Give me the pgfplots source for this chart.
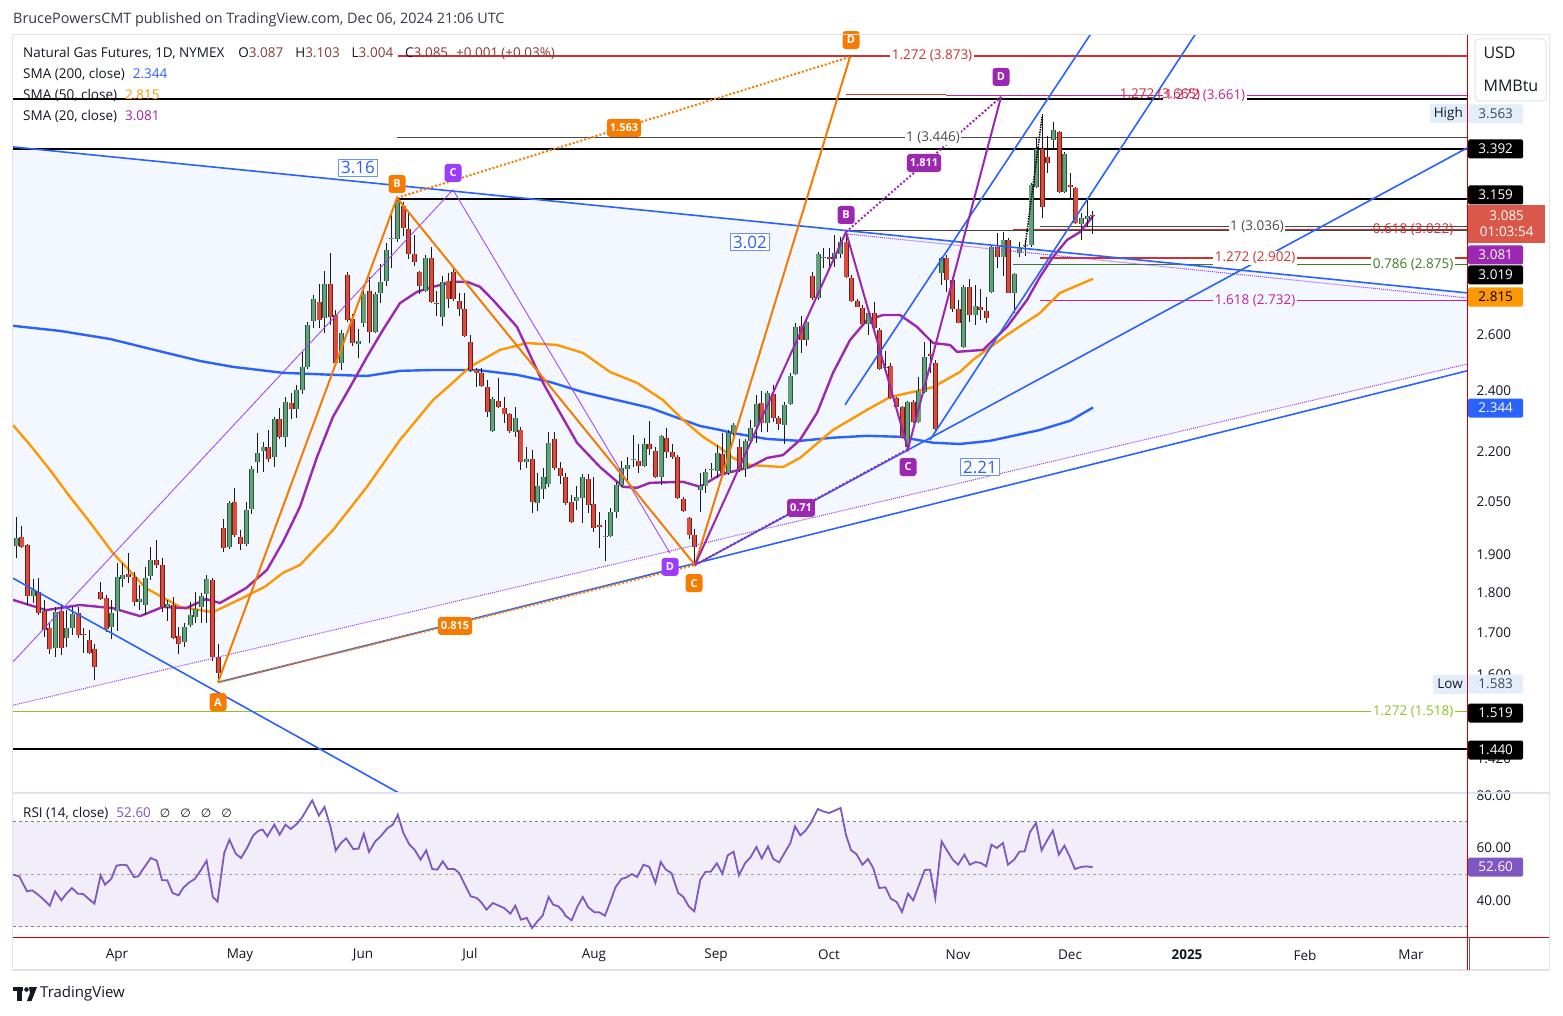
\documentclass[border=0pt]{standalone}
\usepackage{pgfplots}
\pgfplotsset{compat=1.18}
\usepackage{fontspec}
\setmainfont{Open Sans}
\newfontfamily\dvs{DejaVu Sans}

\definecolor{upfill}{HTML}{63A07B}
\definecolor{upbord}{HTML}{24563A}
\definecolor{dnfill}{HTML}{DB4C3C}
\definecolor{dnbord}{HTML}{6E1E16}
\definecolor{wickc}{HTML}{1A1A1A}
\definecolor{tvblue}{HTML}{2962FF}
\definecolor{tvorange}{HTML}{FF9800}
\definecolor{orpat}{HTML}{F57C00}
\definecolor{sma20}{HTML}{9C27B0}
\definecolor{vio}{HTML}{9D3CFF}
\definecolor{shade}{HTML}{F3F7FF}
\definecolor{fibred}{HTML}{D32F2F}
\definecolor{fibmag}{HTML}{C5229B}
\definecolor{fibgreen}{HTML}{3A7D22}
\definecolor{fiblime}{HTML}{8FC31F}
\definecolor{fibgray}{HTML}{4A4A4A}
\definecolor{rsic}{HTML}{7E57C2}
\definecolor{rsiband}{HTML}{F2EEF9}
\definecolor{frame}{HTML}{E0E3EB}
\definecolor{txt}{HTML}{131722}
\definecolor{ohlc}{HTML}{8B3A34}
\definecolor{hilo}{HTML}{E3EEFC}
\definecolor{lastred}{HTML}{D9584A}
\definecolor{crossred}{HTML}{CC0000}

\newcommand{\tvf}{\fontsize{13.5}{16}\selectfont}
\newcommand{\hdf}{\fontsize{14.4}{17}\selectfont}

\pgfplotsset{
  wick/.style={draw=wickc, line width=1pt},
  upc/.style={draw=upbord, line width=5pt, line cap=butt, postaction={draw=upfill, line width=3.2pt}},
  dnc/.style={draw=dnbord, line width=5pt, line cap=butt, postaction={draw=dnfill, line width=3.2pt}},
  hl/.style={line width=1.4pt},
}
\tikzset{
  olab/.style={fill=orpat, text=white, rounded corners=3pt, font=\bfseries\fontsize{11}{13}\selectfont, inner xsep=3pt, inner ysep=2pt, minimum height=18pt, minimum width=17pt},
  plab/.style={olab, fill=sma20},
  vlab/.style={olab, fill=vio},
  bbox/.style={draw=tvblue!70, fill=white, text=tvblue, font=\fontsize{17}{20}\selectfont, inner sep=2.5pt, line width=0.8pt},
  fl/.style={font=\tvf, inner sep=1.5pt},
}

% one candle: x, open, high, low, close
\newcommand{\cndl}[5]{%
  \addplot[wick] coordinates {(#1,#4) (#1,#3)};
  \ifdim #5pt<#2pt
    \addplot[dnc] coordinates {(#1,#2) (#1,#5)};
  \else
    \addplot[upc] coordinates {(#1,#2) (#1,#5)};
  \fi}

\newcommand{\plabel}[4]{\node[fill=#2, text=#3, font=\tvf, minimum width=55pt, minimum height=19pt, inner sep=0pt, anchor=west, rounded corners=1.5pt] at (1468,-#1) {#4};}

\begin{document}
\begin{tikzpicture}[x=1pt,y=1pt]
\useasboundingbox (0,0) rectangle (1563,-1016);
\fill[white] (0,0) rectangle (1563,-1016);

%% ---------------- price pane ----------------
\begin{axis}[
  at={(13pt,-35pt)}, anchor=north west, scale only axis,
  width=1454pt, height=758pt,
  xmin=13, xmax=1467, ymode=log, ymin=1.3515, ymax=3.991,
  axis line style={draw=none}, xtick=\empty,
  ytick={1.42,1.6,1.7,1.8,1.9,2.05,2.2,2.4,2.6},
  yticklabels={1.420,1.600,1.700,1.800,1.900,2.050,2.200,2.400,2.600},
  ytick pos=right, yticklabel pos=right, major tick length=0pt,
  yticklabel style={font=\tvf, text=txt, anchor=west, xshift=6pt},
  clip mode=individual,
]
% triangle shading
\addplot[fill=shade, draw=none] coordinates {(13,3.401) (1467,2.761) (1467,2.494) (13,1.532)} -- cycle;

% horizontal levels
\addplot[hl, fibred] coordinates {(398,3.873) (1467,3.873)};
\addplot[hl, fibred] coordinates {(846,3.665) (946,3.665)};
\addplot[hl, fibmag] coordinates {(946,3.661) (1467,3.661)};
\addplot[line width=2pt, black] coordinates {(13,3.642) (1467,3.642)};
\addplot[hl, fibgray] coordinates {(397,3.446) (1467,3.446)};
\addplot[line width=2pt, black] coordinates {(13,3.392) (1467,3.392)};
\addplot[line width=2pt, black] coordinates {(397,3.159) (1467,3.159)};
\addplot[hl, fibgray] coordinates {(1040,3.036) (1467,3.036)};
\addplot[hl, black!75] coordinates {(846,3.019) (1467,3.019)};
\addplot[hl, fibred] coordinates {(1013,3.024) (1467,3.024)};
\addplot[hl, fibred] coordinates {(1040,2.902) (1467,2.902)};
\addplot[hl, fibgreen] coordinates {(1013,2.875) (1467,2.875)};
\addplot[hl, fibmag] coordinates {(1040,2.732) (1467,2.732)};
\addplot[hl, fiblime] coordinates {(13,1.518) (1467,1.518)};
\addplot[line width=2pt, black] coordinates {(13,1.440) (1467,1.440)};

% moving averages
\addplot[tvblue, line width=2.4pt] coordinates {(13,2.634)(60,2.615)(110,2.585)(160,2.540)(200,2.505)(233,2.484)(283,2.463)(333,2.456)(367,2.452)(400,2.470)(433,2.473)(477,2.473)(517,2.456)(550,2.431)(583,2.396)(617,2.369)(650,2.343)(683,2.303)(700,2.283)(720,2.270)(733,2.260)(767,2.241)(800,2.235)(833,2.245)(867,2.251)(900,2.248)(933,2.229)(960,2.225)(990,2.235)(1040,2.270)(1070,2.300)(1093,2.344)};
\addplot[tvorange, line width=2.4pt] coordinates {(13,2.286)(30,2.222)(50,2.144)(70,2.063)(90,1.990)(113,1.904)(146,1.811)(180,1.763)(213,1.750)(246,1.790)(265,1.815)(283,1.851)(300,1.872)(333,1.968)(367,2.093)(400,2.238)(433,2.369)(450,2.420)(470,2.484)(500,2.545)(527,2.570)(557,2.563)(583,2.534)(610,2.466)(637,2.428)(663,2.369)(683,2.303)(703,2.248)(720,2.213)(733,2.181)(750,2.159)(783,2.153)(800,2.181)(833,2.270)(867,2.336)(890,2.379)(917,2.400)(933,2.413)(960,2.466)(973,2.509)(1007,2.600)(1040,2.683)(1060,2.761)(1093,2.817)};
\addplot[sma20, line width=2.4pt] coordinates {(13,1.781)(46,1.755)(80,1.768)(113,1.760)(140,1.740)(163,1.763)(186,1.760)(206,1.783)(220,1.773)(246,1.811)(267,1.859)(283,1.935)(300,2.034)(317,2.184)(333,2.313)(350,2.413)(367,2.520)(383,2.619)(400,2.721)(417,2.765)(433,2.785)(453,2.805)(467,2.805)(480,2.785)(493,2.733)(517,2.630)(543,2.428)(577,2.229)(600,2.153)(623,2.093)(637,2.090)(650,2.105)(683,2.108)(700,2.093)(720,2.129)(750,2.153)(767,2.181)(783,2.190)(800,2.238)(817,2.326)(833,2.463)(850,2.581)(867,2.656)(883,2.675)(900,2.675)(917,2.630)(933,2.570)(950,2.563)(957,2.538)(983,2.545)(1007,2.630)(1027,2.733)(1040,2.825)(1053,2.906)(1067,2.978)(1080,3.012)(1093,3.081)};

% candles
\cndl{16.3}{1.923}{2.005}{1.890}{1.946}
\cndl{21.9}{1.948}{1.979}{1.918}{1.920}
\cndl{27.5}{1.926}{1.930}{1.768}{1.791}
\cndl{33.1}{1.791}{1.835}{1.773}{1.806}
\cndl{38.7}{1.801}{1.837}{1.743}{1.748}
\cndl{44.3}{1.753}{1.781}{1.689}{1.706}
\cndl{49.9}{1.711}{1.723}{1.648}{1.660}
\cndl{55.5}{1.663}{1.763}{1.641}{1.750}
\cndl{61.1}{1.753}{1.771}{1.646}{1.663}
\cndl{66.8}{1.687}{1.755}{1.665}{1.711}
\cndl{72.4}{1.711}{1.763}{1.694}{1.745}
\cndl{78.0}{1.748}{1.763}{1.687}{1.694}
\cndl{83.6}{1.696}{1.711}{1.651}{1.694}
\cndl{89.2}{1.682}{1.706}{1.648}{1.651}
\cndl{94.8}{1.660}{1.672}{1.588}{1.618}
\cndl{100.4}{1.801}{1.827}{1.781}{1.783}
\cndl{106.0}{1.786}{1.794}{1.701}{1.708}
\cndl{111.6}{1.713}{1.781}{1.684}{1.748}
\cndl{117.2}{1.753}{1.877}{1.704}{1.840}
\cndl{122.8}{1.835}{1.877}{1.814}{1.845}
\cndl{128.4}{1.848}{1.904}{1.824}{1.840}
\cndl{134.0}{1.840}{1.853}{1.766}{1.776}
\cndl{139.6}{1.776}{1.819}{1.755}{1.783}
\cndl{145.2}{1.768}{1.867}{1.743}{1.837}
\cndl{150.8}{1.843}{1.920}{1.832}{1.885}
\cndl{156.5}{1.885}{1.940}{1.864}{1.872}
\cndl{162.1}{1.872}{1.890}{1.750}{1.763}
\cndl{167.7}{1.763}{1.781}{1.728}{1.771}
\cndl{173.3}{1.768}{1.788}{1.684}{1.687}
\cndl{178.9}{1.692}{1.713}{1.648}{1.672}
\cndl{184.5}{1.677}{1.723}{1.665}{1.713}
\cndl{190.1}{1.718}{1.776}{1.713}{1.743}
\cndl{195.7}{1.738}{1.801}{1.723}{1.758}
\cndl{201.3}{1.763}{1.799}{1.723}{1.791}
\cndl{206.9}{1.796}{1.845}{1.723}{1.835}
\cndl{212.5}{1.832}{1.837}{1.632}{1.641}
\cndl{218.1}{1.641}{1.672}{1.583}{1.604}
\cndl{223.7}{1.974}{1.999}{1.907}{1.918}
\cndl{229.3}{1.920}{2.051}{1.915}{2.045}
\cndl{234.9}{2.048}{2.090}{1.948}{1.954}
\cndl{240.5}{1.948}{1.968}{1.912}{1.929}
\cndl{246.2}{1.929}{2.048}{1.923}{2.025}
\cndl{251.8}{2.028}{2.156}{2.013}{2.147}
\cndl{257.4}{2.169}{2.260}{2.135}{2.197}
\cndl{263.0}{2.203}{2.232}{2.138}{2.216}
\cndl{268.6}{2.216}{2.270}{2.169}{2.178}
\cndl{274.2}{2.184}{2.313}{2.153}{2.306}
\cndl{279.8}{2.306}{2.343}{2.241}{2.248}
\cndl{285.4}{2.248}{2.379}{2.216}{2.362}
\cndl{291.0}{2.359}{2.393}{2.306}{2.339}
\cndl{296.6}{2.339}{2.421}{2.310}{2.403}
\cndl{302.2}{2.403}{2.538}{2.390}{2.484}
\cndl{307.8}{2.484}{2.649}{2.477}{2.637}
\cndl{313.4}{2.652}{2.753}{2.626}{2.737}
\cndl{319.0}{2.725}{2.797}{2.626}{2.656}
\cndl{324.6}{2.664}{2.849}{2.608}{2.797}
\cndl{330.2}{2.797}{2.923}{2.637}{2.667}
\cndl{335.9}{2.675}{2.695}{2.491}{2.498}
\cndl{341.5}{2.498}{2.619}{2.473}{2.608}
\cndl{347.1}{2.833}{2.845}{2.649}{2.656}
\cndl{352.7}{2.660}{2.679}{2.559}{2.570}
\cndl{358.3}{2.566}{2.623}{2.516}{2.577}
\cndl{363.9}{2.645}{2.793}{2.630}{2.757}
\cndl{369.5}{2.769}{2.825}{2.570}{2.612}
\cndl{375.1}{2.612}{2.765}{2.608}{2.757}
\cndl{380.7}{2.761}{2.878}{2.721}{2.805}
\cndl{386.3}{2.809}{2.965}{2.789}{2.936}
\cndl{391.9}{2.982}{3.095}{2.861}{2.986}
\cndl{397.5}{2.982}{3.162}{2.969}{3.149}
\cndl{403.1}{3.126}{3.144}{2.995}{3.029}
\cndl{408.7}{3.025}{3.095}{2.898}{2.919}
\cndl{414.3}{2.919}{2.999}{2.869}{2.886}
\cndl{419.9}{2.845}{2.850}{2.757}{2.789}
\cndl{425.6}{2.769}{2.915}{2.765}{2.902}
\cndl{431.2}{2.902}{2.948}{2.721}{2.725}
\cndl{436.8}{2.721}{2.769}{2.671}{2.718}
\cndl{442.4}{2.667}{2.829}{2.634}{2.805}
\cndl{448.0}{2.809}{2.841}{2.702}{2.737}
\cndl{453.6}{2.845}{2.861}{2.729}{2.737}
\cndl{459.2}{2.729}{2.761}{2.671}{2.698}
\cndl{464.8}{2.698}{2.761}{2.592}{2.596}
\cndl{470.4}{2.574}{2.600}{2.466}{2.473}
\cndl{476.0}{2.473}{2.480}{2.413}{2.463}
\cndl{481.6}{2.463}{2.480}{2.413}{2.417}
\cndl{487.2}{2.413}{2.438}{2.313}{2.329}
\cndl{492.8}{2.267}{2.379}{2.264}{2.372}
\cndl{498.4}{2.366}{2.445}{2.344}{2.346}
\cndl{504.0}{2.343}{2.379}{2.293}{2.323}
\cndl{509.6}{2.323}{2.326}{2.260}{2.267}
\cndl{515.3}{2.264}{2.346}{2.248}{2.310}
\cndl{520.9}{2.270}{2.280}{2.144}{2.169}
\cndl{526.5}{2.169}{2.216}{2.150}{2.178}
\cndl{532.1}{2.178}{2.206}{2.016}{2.048}
\cndl{537.7}{2.045}{2.135}{2.022}{2.096}
\cndl{543.3}{2.087}{2.150}{2.057}{2.123}
\cndl{548.9}{2.102}{2.264}{2.093}{2.229}
\cndl{554.5}{2.241}{2.264}{2.144}{2.150}
\cndl{560.1}{2.150}{2.169}{2.102}{2.126}
\cndl{565.7}{2.123}{2.135}{2.039}{2.045}
\cndl{571.3}{2.048}{2.069}{1.987}{1.990}
\cndl{576.9}{2.051}{2.096}{2.025}{2.063}
\cndl{582.5}{2.060}{2.132}{1.987}{2.123}
\cndl{588.1}{2.117}{2.132}{2.016}{2.039}
\cndl{593.7}{2.042}{2.123}{1.962}{1.974}
\cndl{599.3}{1.982}{2.019}{1.918}{1.976}
\cndl{605.0}{1.950}{1.996}{1.882}{1.952}
\cndl{610.6}{1.951}{2.031}{1.948}{2.019}
\cndl{616.2}{2.019}{2.108}{2.002}{2.099}
\cndl{621.8}{2.099}{2.172}{2.093}{2.150}
\cndl{627.4}{2.147}{2.184}{2.108}{2.159}
\cndl{633.0}{2.175}{2.254}{2.153}{2.177}
\cndl{638.6}{2.172}{2.225}{2.135}{2.156}
\cndl{644.2}{2.156}{2.245}{2.153}{2.225}
\cndl{649.8}{2.225}{2.300}{2.190}{2.210}
\cndl{655.4}{2.203}{2.216}{2.120}{2.123}
\cndl{661.0}{2.123}{2.255}{2.099}{2.251}
\cndl{666.6}{2.245}{2.277}{2.181}{2.200}
\cndl{672.2}{2.200}{2.225}{2.178}{2.184}
\cndl{677.8}{2.184}{2.190}{2.057}{2.060}
\cndl{683.4}{2.057}{2.063}{2.020}{2.022}
\cndl{689.0}{2.002}{2.005}{1.943}{1.954}
\cndl{694.7}{1.954}{1.971}{1.872}{1.920}
\cndl{700.3}{2.084}{2.135}{2.019}{2.096}
\cndl{705.9}{2.096}{2.147}{2.075}{2.138}
\cndl{711.5}{2.144}{2.166}{2.120}{2.146}
\cndl{717.1}{2.141}{2.222}{2.120}{2.197}
\cndl{722.7}{2.194}{2.260}{2.129}{2.135}
\cndl{728.3}{2.135}{2.270}{2.129}{2.260}
\cndl{733.9}{2.260}{2.293}{2.238}{2.287}
\cndl{739.5}{2.216}{2.241}{2.138}{2.144}
\cndl{745.1}{2.147}{2.241}{2.123}{2.235}
\cndl{750.7}{2.235}{2.303}{2.229}{2.277}
\cndl{756.3}{2.280}{2.386}{2.229}{2.356}
\cndl{761.9}{2.359}{2.400}{2.264}{2.293}
\cndl{767.5}{2.293}{2.400}{2.264}{2.393}
\cndl{773.1}{2.390}{2.421}{2.297}{2.310}
\cndl{778.7}{2.310}{2.316}{2.270}{2.290}
\cndl{784.4}{2.287}{2.362}{2.225}{2.352}
\cndl{790.0}{2.356}{2.463}{2.352}{2.452}
\cndl{795.6}{2.459}{2.645}{2.456}{2.630}
\cndl{801.2}{2.634}{2.671}{2.534}{2.581}
\cndl{806.8}{2.581}{2.656}{2.559}{2.649}
\cndl{812.4}{2.829}{2.845}{2.733}{2.741}
\cndl{818.0}{2.741}{2.927}{2.733}{2.919}
\cndl{823.6}{2.906}{2.944}{2.861}{2.908}
\cndl{829.2}{2.906}{2.944}{2.865}{2.898}
\cndl{834.8}{2.898}{2.999}{2.865}{2.923}
\cndl{840.4}{2.919}{2.991}{2.902}{2.969}
\cndl{846.0}{2.969}{3.012}{2.822}{2.825}
\cndl{851.6}{2.821}{2.833}{2.725}{2.729}
\cndl{857.2}{2.729}{2.737}{2.704}{2.706}
\cndl{862.8}{2.702}{2.714}{2.637}{2.641}
\cndl{868.4}{2.641}{2.695}{2.600}{2.683}
\cndl{874.1}{2.683}{2.725}{2.615}{2.626}
\cndl{879.7}{2.619}{2.626}{2.473}{2.477}
\cndl{885.3}{2.480}{2.541}{2.473}{2.482}
\cndl{890.9}{2.487}{2.498}{2.372}{2.376}
\cndl{896.5}{2.376}{2.379}{2.343}{2.346}
\cndl{902.1}{2.346}{2.349}{2.245}{2.248}
\cndl{907.7}{2.216}{2.366}{2.203}{2.362}
\cndl{913.3}{2.362}{2.369}{2.293}{2.297}
\cndl{918.9}{2.297}{2.449}{2.293}{2.400}
\cndl{924.5}{2.396}{2.574}{2.393}{2.520}
\cndl{930.1}{2.531}{2.581}{2.463}{2.524}
\cndl{935.7}{2.498}{2.509}{2.264}{2.274}
\cndl{941.3}{2.841}{2.906}{2.793}{2.902}
\cndl{946.9}{2.902}{2.915}{2.765}{2.813}
\cndl{952.5}{2.813}{2.825}{2.687}{2.698}
\cndl{958.1}{2.698}{2.733}{2.643}{2.645}
\cndl{963.8}{2.556}{2.793}{2.552}{2.785}
\cndl{969.4}{2.785}{2.817}{2.649}{2.675}
\cndl{975.0}{2.675}{2.793}{2.637}{2.710}
\cndl{980.6}{2.706}{2.777}{2.656}{2.695}
\cndl{986.2}{2.691}{2.745}{2.645}{2.664}
\cndl{991.8}{2.765}{2.957}{2.761}{2.948}
\cndl{997.4}{2.948}{3.008}{2.861}{2.906}
\cndl{1003.0}{2.906}{3.012}{2.829}{2.978}
\cndl{1008.6}{2.978}{2.986}{2.759}{2.761}
\cndl{1014.2}{2.761}{2.841}{2.683}{2.837}
\cndl{1019.8}{2.923}{2.969}{2.906}{2.940}
\cndl{1025.4}{2.952}{2.978}{2.911}{2.957}
\cndl{1031.0}{2.957}{3.230}{2.948}{3.221}
\cndl{1036.6}{3.212}{3.445}{3.208}{3.392}
\cndl{1042.2}{3.392}{3.563}{3.072}{3.122}
\cndl{1047.8}{3.353}{3.455}{3.277}{3.324}
\cndl{1053.5}{3.435}{3.525}{3.397}{3.485}
\cndl{1059.1}{3.475}{3.480}{3.185}{3.190}
\cndl{1064.7}{3.190}{3.377}{3.185}{3.367}
\cndl{1070.3}{3.221}{3.277}{3.153}{3.212}
\cndl{1075.9}{3.208}{3.212}{3.047}{3.051}
\cndl{1081.5}{3.047}{3.095}{2.978}{3.073}
\cndl{1087.1}{3.068}{3.153}{3.034}{3.081}
\cndl{1092.7}{3.087}{3.103}{3.004}{3.085}

% trend lines and patterns
\addplot[tvblue, line width=1.6pt] coordinates {(13,3.401) (1467,2.761)};
\addplot[vio, densely dotted, line width=1pt] coordinates {(846,3.004) (1467,2.741)};
\addplot[vio, densely dotted, line width=1pt] coordinates {(13,1.532) (1467,2.494)};
\addplot[tvblue, line width=1.6pt] coordinates {(218,1.583) (1467,2.470)};
\addplot[tvblue, line width=1.6pt] coordinates {(13,1.837) (420,1.329)};
\addplot[tvblue, line width=1.6pt] coordinates {(695,1.872) (1467,3.396)};
\addplot[tvblue, line width=1.6pt] coordinates {(845,2.353) (1110,4.166)};
\addplot[tvblue, line width=1.6pt] coordinates {(930,2.238) (1215,4.170)};
\addplot[vio, line width=0.8pt] coordinates {(13,1.630) (453,3.199) (670,1.904)};
\addplot[orpat, dotted, line width=2pt] coordinates {(218,1.583) (695,1.872)};
\addplot[orpat, dotted, line width=2pt] coordinates {(397,3.162) (850,3.868)};
\addplot[orpat, line width=2pt] coordinates {(218,1.583) (397,3.162) (695,1.872) (850,3.868)};
\addplot[sma20, dotted, line width=2pt] coordinates {(695,1.872) (908,2.209)};
\addplot[sma20, dotted, line width=2pt] coordinates {(846,3.012) (1001,3.653)};
\addplot[sma20, line width=2pt] coordinates {(695,1.872) (846,3.012) (908,2.209) (1001,3.653)};
\addplot[black, densely dotted, line width=1.5pt] coordinates {(1025,2.948) (1042,3.550)};

% pattern labels
\node[bbox] at (axis cs:358,3.301) {3.16};
\node[bbox] at (axis cs:750,2.969) {3.02};
\node[bbox] at (axis cs:980,2.153) {2.21};
\node[olab] at (axis cs:397,3.226) {B};
\node[olab] at (axis cs:218,1.539) {A};
\node[olab] at (axis cs:694,1.824) {C};
\node[olab] at (axis cs:851,3.963) {D};
\node[olab] at (axis cs:624,3.495) {1.563};
\node[olab] at (axis cs:455,1.716) {0.815};
\node[vlab] at (axis cs:453,3.277) {C};
\node[vlab] at (axis cs:670,1.867) {D};
\node[plab] at (axis cs:846,3.086) {B};
\node[plab] at (axis cs:908,2.153) {C};
\node[plab] at (axis cs:1001,3.759) {D};
\node[plab] at (axis cs:924,3.324) {1.811};
\node[plab] at (axis cs:801,2.031) {0.71};

% fib labels
\node[fl, fill=white, text=fibred] at (axis cs:932,3.873) {1.272 (3.873)};
\node[fl, fill=white, text=fibmag] at (axis cs:1205,3.661) {1.272 (3.661)};
\node[fl, text=fibred] at (axis cs:1160,3.665) {1.272 (3.665)};
\node[fl, fill=white, text=fibgray] at (axis cs:933,3.446) {1 (3.446)};
\node[fl, fill=white, text=fibgray] at (axis cs:1257,3.036) {1 (3.036)};
\node[fl, text=fibred] at (axis cs:1413,3.022) {0.618 (3.022)};
\node[fl, fill=white, text=fibred] at (axis cs:1255,2.902) {1.272 (2.902)};
\node[fl, fill=white, text=fibgreen] at (axis cs:1413,2.875) {0.786 (2.875)};
\node[fl, fill=shade, text=fibmag] at (axis cs:1255,2.732) {1.618 (2.732)};
\node[fl, fill=white, text=fiblime] at (axis cs:1413,1.518) {1.272 (1.518)};
\end{axis}

%% ---------------- RSI pane ----------------
\begin{axis}[
  at={(13pt,-793pt)}, anchor=north west, scale only axis,
  width=1454pt, height=147pt,
  xmin=13, xmax=1467, ymin=24.86, ymax=80.86,
  axis line style={draw=none},
  ytick={40,60,80}, yticklabels={40.00,60.00,80.00},
  ytick pos=right, yticklabel pos=right, major tick length=0pt,
  yticklabel style={font=\tvf, text=txt, anchor=west, xshift=6pt},
  xtick={117,240,363,470,594,716,829,958,1070,1187,1305,1411},
  xticklabels={Apr,May,Jun,Jul,Aug,Sep,Oct,Nov,Dec,\textbf{2025},Feb,Mar},
  xtick pos=bottom,
  xticklabel style={font=\tvf, text=txt, anchor=center, yshift=-15pt},
  clip mode=individual,
]
\addplot[fill=rsiband, draw=none] coordinates {(13,30) (1467,30) (1467,70) (13,70)} -- cycle;
\addplot[gray, dashed, line width=0.9pt] coordinates {(13,70) (1467,70)};
\addplot[gray!70, dashed, line width=0.9pt] coordinates {(13,50) (1467,50)};
\addplot[gray, dashed, line width=0.9pt] coordinates {(13,30) (1467,30)};
\addplot[rsic, line width=1.8pt] coordinates {(13.0,49.75)(19.3,49.11)(27.0,43.40)(32.3,43.78)(39.3,41.75)(44.6,39.97)(49.8,37.94)(55.1,43.40)(61.4,39.97)(65.6,42.13)(71.9,44.67)(77.9,42.51)(83.2,42.38)(88.4,40.61)(94.4,38.70)(100.7,49.50)(104.9,45.94)(111.2,48.10)(116.5,53.18)(122.4,53.56)(127.0,53.30)(134.0,48.86)(138.2,49.11)(144.5,52.67)(150.8,56.10)(156.8,55.08)(162.1,47.59)(167.3,47.59)(172.6,42.76)(178.6,41.88)(183.1,44.67)(188.4,46.57)(194.7,48.10)(200.7,51.40)(206.6,55.08)(212.9,41.24)(217.5,39.46)(224.2,58.00)(229.4,63.08)(235.7,57.75)(241.0,56.10)(247.0,59.91)(253.3,64.73)(258.5,66.51)(262.7,66.89)(267.3,64.35)(274.3,68.80)(279.6,64.99)(285.5,68.80)(290.8,67.15)(297.1,69.18)(302.4,71.72)(307.6,75.15)(312.2,78.07)(318.9,72.23)(324.5,75.53)(330.4,68.16)(335.7,58.89)(341.0,61.81)(346.2,63.59)(353.2,59.53)(358.5,59.65)(363.8,65.37)(369.0,58.38)(375.3,62.45)(380.6,64.35)(387.6,67.53)(392.9,68.80)(397.8,72.61)(403.4,65.62)(409.4,61.18)(414.6,59.27)(420.6,55.46)(426.2,59.02)(432.2,51.91)(437.4,51.65)(442.7,54.83)(447.9,51.91)(454.2,51.91)(459.2,50.38)(463.7,46.83)(470.7,41.50)(476.7,40.86)(481.3,39.21)(486.5,36.41)(492.8,38.95)(498.8,37.94)(504.1,37.05)(510.4,34.89)(515.3,37.94)(520.9,32.61)(526.8,33.24)(532.1,29.43)(537.4,31.97)(542.6,34.13)(548.6,41.24)(553.2,38.32)(558.4,37.68)(563.0,35.78)(565.3,34.13)(571.6,32.35)(577.5,37.68)(582.8,41.24)(588.1,37.43)(594.4,35.40)(599.3,35.40)(604.9,34.13)(610.9,39.97)(615.4,44.92)(621.4,48.10)(626.6,48.73)(631.9,50.00)(637.2,48.86)(643.5,53.56)(649.4,52.67)(655.4,46.57)(660.7,54.57)(665.9,51.65)(671.5,50.38)(678.2,42.76)(683.5,41.24)(688.7,37.68)(694.3,35.78)(700.3,47.84)(705.6,50.89)(710.8,50.89)(716.8,54.07)(722.4,50.13)(727.7,57.11)(733.6,58.51)(738.9,49.50)(745.2,54.19)(750.5,56.35)(756.4,60.29)(761.7,55.97)(768.0,60.54)(773.3,55.72)(779.2,54.45)(784.5,58.00)(790.4,61.81)(795.0,68.16)(800.3,64.73)(805.5,66.51)(810.8,69.43)(817.8,74.76)(823.1,73.88)(829.0,73.24)(834.6,74.13)(840.6,75.15)(845.9,64.99)(851.1,59.02)(856.4,57.62)(862.4,53.56)(868.0,55.72)(873.2,52.29)(879.2,44.67)(885.5,44.92)(890.8,40.61)(896.7,39.34)(902.0,35.53)(908.0,42.51)(913.2,39.97)(918.5,45.30)(924.8,51.53)(930.0,51.65)(935.3,40.86)(941.6,62.45)(946.9,59.02)(952.8,55.46)(958.1,53.56)(964.4,57.37)(969.7,53.56)(975.6,54.57)(980.9,54.19)(986.2,52.92)(991.4,61.18)(996.7,59.91)(1003.0,61.81)(1007.9,53.56)(1014.2,55.46)(1019.5,58.51)(1024.7,58.64)(1030.0,66.00)(1036.0,69.43)(1041.6,59.02)(1047.5,63.08)(1052.8,66.51)(1058.8,57.37)(1064.4,60.80)(1069.6,56.73)(1074.9,51.91)(1080.9,52.67)(1086.1,52.92)(1092.7,52.60)};
\end{axis}

%% ---------------- frame and scales ----------------
\draw[frame, line width=1.5pt] (12.5,-34.5) rectangle (1549.5,-970);
\draw[frame, line width=1.5pt] (13,-793) -- (1549,-793);
\draw[crossred, line width=1pt] (13,-937) -- (1549,-937);
\draw[crossred, line width=1pt] (1467.5,-35) -- (1467.5,-970);
\draw[black!60, line width=0.8pt] (1469,-937) -- (1469,-970);

\draw[frame, line width=1pt, rounded corners=4pt, fill=white] (1475,-39) rectangle (1546,-101);
\node[font=\fontsize{16}{18}\selectfont, text=txt, anchor=west] at (1480,-53) {USD};
\node[font=\fontsize{16}{18}\selectfont, text=txt, anchor=west] at (1480,-86) {MMBtu};

\node[fill=hilo, text=txt, font=\tvf, minimum height=19pt, inner xsep=4pt, inner ysep=0pt, anchor=east] at (1467,-114) {High};
\plabel{114}{hilo}{txt!80}{3.563}
\plabel{149}{black}{white}{3.392}
\plabel{195}{black}{white}{3.159}
\node[fill=lastred, text=white, font=\tvf, minimum width=77pt, minimum height=38pt, inner sep=0pt, anchor=north west, align=center] at (1468,-205) {3.085\\01:03:54};
\plabel{255}{sma20}{white}{3.081}
\plabel{275}{black}{white}{3.019}
\plabel{297}{tvorange}{black}{2.815}
\plabel{408}{tvblue}{white}{2.344}
\node[fill=hilo, text=txt, font=\tvf, minimum height=19pt, inner xsep=4pt, inner ysep=0pt, anchor=east] at (1467,-684) {Low};
\plabel{684}{hilo}{txt!80}{1.583}
\plabel{713}{black}{white}{1.519}
\plabel{750}{black}{white}{1.440}
\plabel{867}{rsic}{white}{52.60}

%% ---------------- legends ----------------
\node[anchor=west, inner sep=0pt, font=\hdf, text=txt!85] at (13,-20) {BrucePowersCMT published on TradingView.com, Dec 06, 2024 21:06 UTC};
\node[anchor=west, inner sep=0pt, font=\tvf, text=txt] at (23,-53) {Natural Gas Futures, 1D, NYMEX\hspace{14pt}O\textcolor{ohlc}{3.087}\hspace{12pt}H\textcolor{ohlc}{3.103}\hspace{12pt}L\textcolor{ohlc}{3.004}\hspace{12pt}C\textcolor{ohlc}{3.085}\hspace{8pt}\textcolor{ohlc}{+0.001\hspace{3pt}(+0.03\%)}};
\node[anchor=west, inner sep=0pt, font=\tvf, text=txt] at (23,-74) {SMA (200, close)\hspace{8pt}\textcolor{tvblue}{2.344}};
\node[anchor=west, inner sep=0pt, font=\tvf, text=txt] at (23,-95) {SMA (50, close)\hspace{8pt}\textcolor{tvorange}{2.815}};
\node[anchor=west, inner sep=0pt, font=\tvf, text=txt] at (23,-116) {SMA (20, close)\hspace{8pt}\textcolor{sma20}{3.081}};
\node[anchor=west, inner sep=0pt, font=\tvf, text=txt] at (23,-813) {RSI (14, close)\hspace{8pt}\textcolor{rsic}{52.60}\hspace{9pt}{\dvs\fontsize{12}{14}\selectfont ∅\hspace{10pt}∅\hspace{10pt}∅\hspace{10pt}∅}};

%% ---------------- logo ----------------
\fill[txt] (13,-987) rectangle (23,-991);
\fill[txt] (17,-987) rectangle (22,-1001);
\fill[txt] (26.5,-989.5) circle (2.3pt);
\fill[txt] (29,-987) -- (37,-987) -- (31.5,-1001) -- (27,-1001) -- (30,-993) -- cycle;
\node[anchor=west, inner sep=0pt, font=\fontsize{15}{17}\selectfont, text=txt] at (40,-994) {TradingView};
\end{tikzpicture}
\end{document}
